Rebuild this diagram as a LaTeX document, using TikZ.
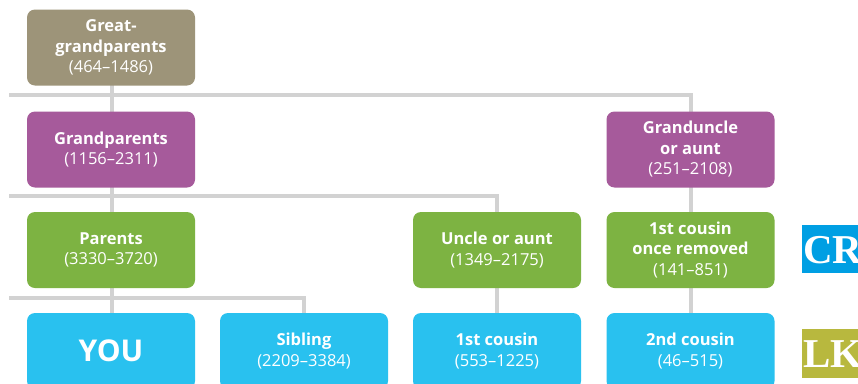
\documentclass[tikz,border=0pt]{standalone}
\usepackage{fontspec}
\setmainfont{Open Sans}
\newfontfamily\serifbold{Liberation Serif}
\definecolor{ggc}{RGB}{157,148,121}
\definecolor{gpc}{RGB}{166,90,155}
\definecolor{pc}{RGB}{125,179,66}
\definecolor{yc}{RGB}{41,193,239}
\definecolor{linec}{RGB}{210,210,210}
\definecolor{crc}{RGB}{0,159,227}
\definecolor{lkc}{RGB}{184,184,62}
\tikzset{
  x=1pt, y=-1pt,
  fam/.style={rounded corners=8pt, minimum width=168pt, minimum height=76pt,
    inner sep=0pt, text=white, align=center, font=\fontsize{16.5}{20.5}\selectfont},
  conn/.style={draw=linec, line width=4pt},
  tag/.style={inner sep=0pt, anchor=west, text=white, font=\serifbold\bfseries\fontsize{41}{41}\selectfont}
}
\begin{document}
\begin{tikzpicture}
\useasboundingbox (0,0) rectangle (858,383);
\clip (0,0) rectangle (858,383);
\fill[white] (0,0) rectangle (858,383);
% connectors drawn first (beneath boxes)
\coordinate (l1) at (9,95);
\coordinate (l2) at (9,196);
\coordinate (l3) at (9,298);
\coordinate (gux) at (691,95);
\coordinate (guy) at (691,149.5);
\coordinate (ux) at (497,196);
\coordinate (uy) at (497,250);
\coordinate (sx) at (304,298);
\coordinate (sy) at (304,351);
\coordinate (ax) at (112,47.5);
\coordinate (ay) at (112,351);
\draw[conn] (l1) -- (gux) -- (guy);
\draw[conn] (l2) -- (ux) -- (uy);
\draw[conn] (l3) -- (sx) -- (sy);
\draw[conn] (ax) -- (ay);
\draw[conn] (uy) -- (497,351);
\draw[conn] (guy) -- (691,351);
% boxes
\node[fam, fill=ggc] (gg) at (111,47.5) {\textbf{Great-}\\\textbf{grandparents}\\(464--1486)};
\node[fam, fill=gpc] (gp) at (111,149.5) {\textbf{Grandparents}\\(1156--2311)};
\node[fam, fill=pc] (par) at (111,250) {\textbf{Parents}\\(3330--3720)};
\node[fam, fill=yc, font=\bfseries\fontsize{30}{30}\selectfont] (you) at (111,351) {YOU};
\node[fam, fill=yc] (sib) at (304,351) {\textbf{Sibling}\\(2209--3384)};
\node[fam, fill=pc] (unc) at (497,250) {\textbf{Uncle or aunt}\\(1349--2175)};
\node[fam, fill=yc] (c1) at (497,351) {\textbf{1st cousin}\\(553--1225)};
\node[fam, fill=gpc] (gu) at (690.5,149.5) {\textbf{Granduncle}\\\textbf{or aunt}\\(251--2108)};
\node[fam, fill=pc] (c1r) at (690.5,250) {\textbf{1st cousin}\\\textbf{once removed}\\(141--851)};
\node[fam, fill=yc] (c2) at (690.5,351) {\textbf{2nd cousin}\\(46--515)};
% tags
\fill[crc] (802,225) rectangle (870,273);
\node[tag] (cr) at (803,250) {CR};
\fill[lkc] (802,329) rectangle (870,378);
\node[tag] (lk) at (803,354) {LK};
\end{tikzpicture}
\end{document}
